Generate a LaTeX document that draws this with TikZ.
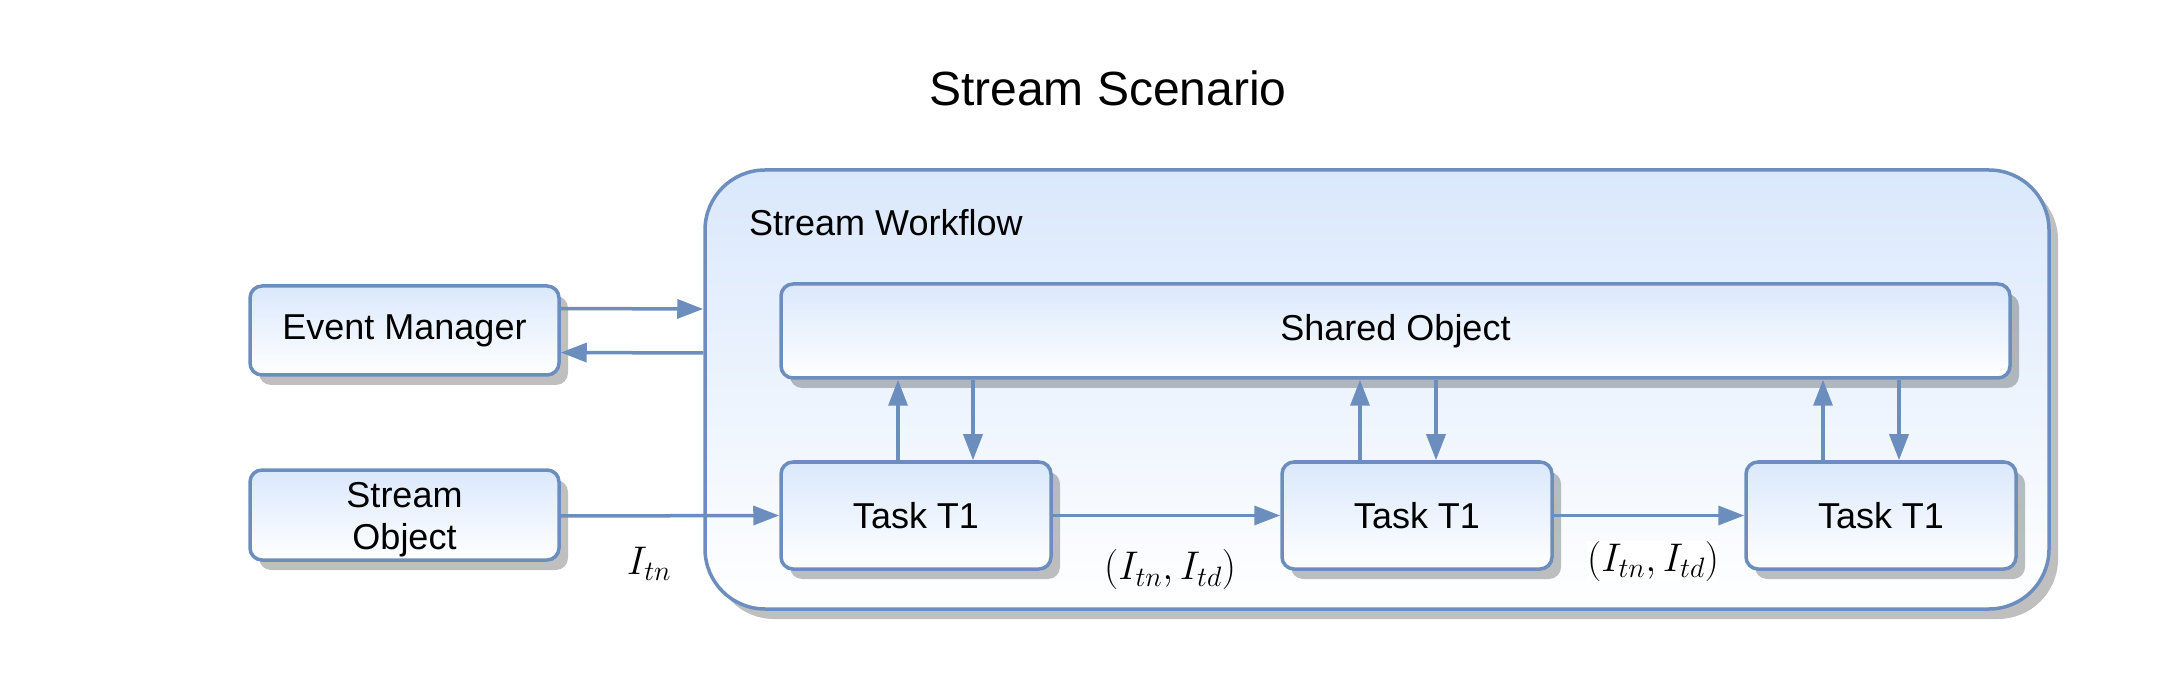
\RequirePackage{fix-cm}
\documentclass[tikz,border=0pt]{standalone}
\usepackage{fontspec}
\setmainfont{Liberation Sans}
\usetikzlibrary{arrows.meta,shadows,calc}
\definecolor{bstroke}{HTML}{6C8EBF}
\definecolor{bfill}{HTML}{DAE8FC}
\begin{document}
\begin{tikzpicture}[x=1pt,y=-1pt,
 box/.style={draw=bstroke, line width=3.5pt, rounded corners=12pt, top color=bfill, bottom color=white,
   drop shadow={shadow xshift=9pt, shadow yshift=-10pt, opacity=0.25, fill=black},
   inner sep=0pt, font=\fontsize{36}{41}\selectfont, align=center},
 txt/.style={inner sep=0pt, font=\fontsize{36}{42}\selectfont, align=center},
 arr/.style={draw=bstroke, line width=3.5pt, -{Triangle[length=26pt,width=19pt]}},
 lbl/.style={font=\fontsize{40}{46}\selectfont, inner sep=0pt}]
\useasboundingbox (0,0) rectangle (2180,700);
\node[font=\fontsize{48}{56}\selectfont] (title) at (1108,88) {Stream Scenario};
\node[box, minimum width=1344pt, minimum height=439pt, rounded corners=60pt] (wf) at (1377,389.5) {};
\node[txt, anchor=west] (wft) at (749,223) {Stream Workflow};
\node[box, minimum width=309pt, minimum height=89pt] (em) at (404.5,330.5) {\raisebox{-3pt}{Event Manager}};
\node[box, minimum width=309pt, minimum height=90pt] (so) at (404.5,515) {};
\node[txt] (sot) at (404.5,520) {Stream\\Object};
\node[box, minimum width=1229pt, minimum height=94pt] (sh) at (1395.5,331) {\raisebox{-2pt}{Shared Object}};
\node[box, minimum width=270pt, minimum height=107pt] (t1) at (916,515.5) {Task T1};
\node[box, minimum width=270pt, minimum height=107pt] (t2) at (1417,515.5) {Task T1};
\node[box, minimum width=270pt, minimum height=107pt] (t3) at (1881,515.5) {Task T1};
\draw[arr] ([yshift=22pt]em.east) -- (wf.west |- 0,309);
\draw[arr] (wf.west |- 0,353) -- ([yshift=-22pt]em.east);
\draw[arr] (so.east |- 0,516) -- (t1.west);
\draw[arr] (t1.east) -- (t2.west);
\draw[arr] (t2.east) -- (t3.west);
\draw[arr] (898,0 |- t1.north) -- (898,0 |- sh.south);
\draw[arr] (973,0 |- sh.south) -- (973,0 |- t1.north);
\draw[arr] (1360,0 |- t2.north) -- (1360,0 |- sh.south);
\draw[arr] (1436,0 |- sh.south) -- (1436,0 |- t2.north);
\draw[arr] (1823,0 |- t3.north) -- (1823,0 |- sh.south);
\draw[arr] (1899,0 |- sh.south) -- (1899,0 |- t3.north);
\node[lbl] (l0) at (649,564) {$I_{tn}$};
\node[lbl] (l1) at (1170,570) {$(I_{tn},I_{td})$};
\node[lbl, fill=white] (l2) at (1653,561) {$(I_{tn},I_{td})$};
\end{tikzpicture}
\end{document}
